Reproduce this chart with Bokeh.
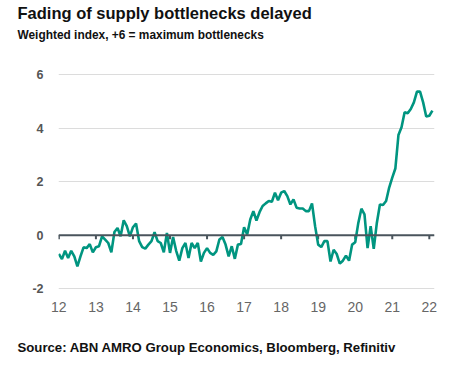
import pandas as pd
from bokeh.plotting import figure
from bokeh.models import FixedTicker, Range1d, Span, Title
from bokeh.embed import file_html
from bokeh.resources import INLINE

# Monthly weighted index, Jan 2012 - Feb 2022
start_month = "2012-01-01"
index_values = [
    -0.70, -0.89, -0.58, -0.85, -0.58, -0.79, -1.16, -0.79, -0.45, -0.48, -0.33, -0.64,
    -0.45, -0.41, -0.04, -0.16, -0.29, -0.64, 0.12, 0.27, -0.04, 0.56, 0.34, -0.04,
    0.30, 0.44, -0.22, -0.44, -0.50, -0.35, -0.22, 0.11, -0.22, -0.29, -0.64, 0.09,
    -0.66, -0.07, -0.58, -0.95, -0.48, -0.29, -0.85, -0.29, -0.48, -0.29, -0.98, -0.66,
    -0.48, -0.66, -0.73, -0.60, -0.16, -0.07, -0.35, -0.79, -0.41, -0.88, -0.35, -0.33,
    0.30, 0.03, 0.59, 0.90, 0.55, 0.86, 1.09, 1.19, 1.28, 1.25, 1.59, 1.31,
    1.59, 1.65, 1.46, 1.15, 1.34, 1.03, 1.00, 1.00, 0.90, 0.90, 1.19, 0.34,
    -0.35, -0.44, -0.22, -0.22, -0.98, -0.54, -0.70, -1.06, -0.95, -0.76, -0.95, -0.35,
    -0.26, 0.46, 0.99, 0.78, -0.48, 0.34, -0.51, 0.46, 1.15, 1.13, 1.28, 1.78,
    2.15, 2.49, 3.74, 4.03, 4.59, 4.55, 4.71, 4.96, 5.36, 5.36, 4.96, 4.43,
    4.46, 4.65,
]
x_ticks = [12, 13, 14, 15, 16, 17, 18, 19, 20, 21, 22]
x_tick_labels = ["12", "13", "14", "15", "16", "17", "18", "19", "20", "21", "22"]
y_ticks = [-2, 0, 2, 4, 6]
y_tick_labels = ["-2", "0", "2", "4", "6"]
zero_tick_len = 0.15   # length of the small year ticks under the zero line

title_text = "Fading of supply bottlenecks delayed"
subtitle_text = "Weighted index, +6 = maximum bottlenecks"
source_text = "Source: ABN AMRO Group Economics, Bloomberg, Refinitiv"

dates = pd.date_range(start_month, periods=len(index_values), freq="MS")
xs = [(d.year - 2000) + (d.month - 1) / 12 for d in dates]

TEAL = "#009580"
DARK = "#4a545c"
FONT = "Liberation Sans"

p = figure(
    frame_width=376, frame_height=247,
    x_range=Range1d(11.99, 22.14), y_range=Range1d(-2.1, 7.12),
    output_backend="svg", toolbar_location=None,
    min_border_left=58, min_border_right=23, min_border_top=0, min_border_bottom=0,
    background_fill_color="white", border_fill_color="white",
)
p.outline_line_color = None
p.title.visible = False

p.xgrid.grid_line_color = None
p.ygrid.ticker = FixedTicker(ticks=y_ticks)
p.ygrid.grid_line_color = "#dcdcdc"
p.ygrid.grid_line_width = 1.2

ya = p.yaxis[0]
ya.ticker = FixedTicker(ticks=y_ticks)
ya.major_label_overrides = {t: l for t, l in zip(y_ticks, y_tick_labels)}
ya.axis_line_color = None
ya.major_tick_line_color = None
ya.minor_tick_line_color = None
ya.major_tick_out = 0
ya.major_tick_in = 0
ya.major_label_standoff = 15
ya.major_label_text_font = FONT
ya.major_label_text_font_style = "bold"
ya.major_label_text_font_size = "12.5px"
ya.major_label_text_color = "#555555"

xa = p.xaxis[0]
xa.ticker = FixedTicker(ticks=x_ticks)
xa.major_label_overrides = {t: l for t, l in zip(x_ticks, x_tick_labels)}
xa.axis_line_color = None
xa.major_tick_line_color = None
xa.minor_tick_line_color = None
xa.major_tick_out = 0
xa.major_tick_in = 0
xa.major_label_standoff = 10
xa.major_label_text_font = FONT
xa.major_label_text_font_size = "14px"
xa.major_label_text_color = "#666666"

p.segment(x0=x_ticks, y0=[0] * len(x_ticks), x1=x_ticks,
          y1=[-zero_tick_len] * len(x_ticks), line_color=DARK, line_width=2)
p.add_layout(Span(location=0, dimension="width", line_color=DARK, line_width=2.2))

p.line(xs, index_values, line_color=TEAL, line_width=2.6)

# texts (first added is closest to the frame)
p.add_layout(Title(text=subtitle_text, text_font=FONT, text_font_style="bold",
                   text_font_size="11.9px", text_color="#111111",
                   offset=-41, standoff=6, vertical_align="bottom"), "above")
p.add_layout(Title(text=title_text, text_font=FONT, text_font_style="bold",
                   text_font_size="16.5px", text_color="#111111",
                   offset=-41, standoff=2, vertical_align="bottom"), "above")
# blank gap between the year labels and the source line
p.add_layout(Title(text=" ", text_font=FONT, text_font_size="10px",
                   text_color="white", standoff=9), "below")
p.add_layout(Title(text=source_text, text_font=FONT, text_font_style="bold",
                   text_font_size="13.2px", text_color="#111111",
                   offset=-41, standoff=2, vertical_align="bottom"), "below")

open("out.html", "w").write(file_html(p, INLINE))
